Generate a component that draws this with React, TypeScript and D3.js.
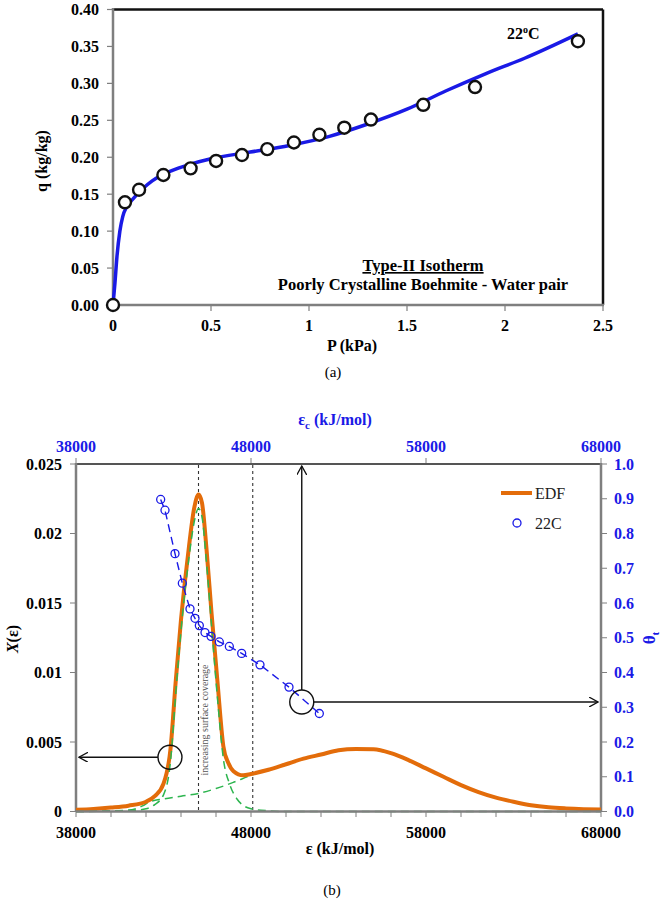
import * as d3 from "d3";
import React from "react";

// ---- (a) isotherm data ----
const pData = [0, 0.061, 0.133, 0.257, 0.396, 0.526, 0.658, 0.787, 0.923, 1.053, 1.18, 1.316, 1.583, 1.847, 2.372];
const qData = [0, 0.139, 0.156, 0.176, 0.185, 0.195, 0.203, 0.211, 0.22, 0.2305, 0.24, 0.251, 0.271, 0.295, 0.357];
const pFit = [0, 0.01, 0.02, 0.035, 0.05, 0.07, 0.1, 0.15, 0.2, 0.3, 0.4, 0.5, 0.7, 0.9, 1.1, 1.3, 1.5, 1.7, 1.9, 2.1, 2.372];
const qFit = [0, 0.03, 0.065, 0.1, 0.12, 0.133, 0.143, 0.157, 0.168, 0.182, 0.191, 0.198, 0.207, 0.216, 0.228, 0.245, 0.265, 0.29, 0.313, 0.334, 0.367];
const xTicksA = [0, 0.5, 1, 1.5, 2, 2.5];
const xTickLabelsA = ["0", "0.5", "1", "1.5", "2", "2.5"];
const yTicksA = [0, 0.05, 0.1, 0.15, 0.2, 0.25, 0.3, 0.35, 0.4];

// ---- (b) energy distribution data ----
const eps = [38000, 39000, 40000, 41000, 42000, 42500, 43000, 43400, 43700, 44000, 44450, 44750, 45000, 45200, 45450, 45750, 46080, 46420, 46700, 47000, 47550, 48000, 49000, 50000, 51000, 52000, 53000, 54000, 55000, 56000, 57000, 58000, 59000, 60000, 61000, 62000, 63000, 64000, 65000, 66000, 67000, 68000];
const edf = [0.00012, 0.00018, 0.00028, 0.00042, 0.0007, 0.0011, 0.002, 0.0045, 0.0094, 0.0138, 0.019, 0.0218, 0.0228, 0.0222, 0.019, 0.0142, 0.0094, 0.0047, 0.0035, 0.0029, 0.0026, 0.0027, 0.003, 0.0034, 0.0038, 0.0041, 0.0044, 0.0045, 0.00448, 0.0042, 0.0037, 0.0031, 0.0025, 0.0019, 0.0014, 0.001, 0.0007, 0.00045, 0.0003, 0.00022, 0.00017, 0.00014];

const epsNarrow = [38000, 41000, 42000, 42500, 43000, 43400, 43700, 44000, 44450, 44750, 45000, 45200, 45450, 45750, 46080, 46420, 46800, 47200, 47600, 48000, 49000, 50000, 68000];
const narrow = [0, 0.00005, 0.0002, 0.0005, 0.0012, 0.0036, 0.0085, 0.013, 0.0182, 0.0208, 0.0218, 0.0212, 0.018, 0.0133, 0.0082, 0.0038, 0.0019, 0.0009, 0.0004, 0.0002, 0.00005, 0, 0];
const epsWide = [38000, 41000, 41800, 42200, 43000, 44000, 45000, 46000, 47000, 48000, 49000, 50000, 52000, 54000, 56000, 58000, 60000, 62000, 64000, 66000, 68000];
const wide = [0, 0.0001, 0.0004, 0.0007, 0.0009, 0.0011, 0.0013, 0.00165, 0.0021, 0.0026, 0.003, 0.0034, 0.0041, 0.0045, 0.0042, 0.0031, 0.0019, 0.001, 0.00045, 0.00022, 0.00014];

const epsC = [42838, 43086, 43657, 44076, 44514, 44800, 45048, 45371, 45714, 46190, 46762, 47467, 48514, 50171, 51905];
const theta = [0.898, 0.867, 0.742, 0.657, 0.583, 0.556, 0.535, 0.515, 0.504, 0.488, 0.475, 0.455, 0.422, 0.358, 0.282];

const xMajorB = [38000, 48000, 58000, 68000];
const xMinorB = d3.range(38000, 68001, 2000);
const yTicksB = [0, 0.005, 0.01, 0.015, 0.02, 0.025];
const yTickLabelsB = ["0", "0.005", "0.01", "0.015", "0.02", "0.025"];
const rTicks = [0, 0.1, 0.2, 0.3, 0.4, 0.5, 0.6, 0.7, 0.8, 0.9, 1.0];

const FONT = "'Liberation Serif', 'Times New Roman', serif";
const BLUE = "#1a1ae6";
const ORANGE = "#e36c0a";
const GREEN = "#2db54f";
const GRAY = "#7f7f7f";

export default function App() {
  // (a) scales
  const xA = d3.scaleLinear([0, 2.5], [113, 603]);
  const yA = d3.scaleLinear([0, 0.4], [305, 9.5]);
  const fitLine = d3
    .line<number>()
    .x((d) => xA(d))
    .y((d, i) => yA(qFit[i]))
    .curve(d3.curveMonotoneX);

  // (b) scales
  const xB = d3.scaleLinear([38000, 68000], [76, 601]);
  const yB = d3.scaleLinear([0, 0.025], [811.5, 464]);
  const yR = d3.scaleLinear([0, 1], [811.5, 464]);

  const mk = (xs: number[], ys: number[]) =>
    d3
      .line<number>()
      .x((d) => xB(d))
      .y((d, i) => yB(ys[i]))
      .curve(d3.curveMonotoneX)(xs) as string;

  const thetaLine = d3
    .line<number>()
    .x((d) => xB(d))
    .y((d, i) => yR(theta[i]))(epsC) as string;

  // annotation circles, in data terms
  const bigC = { x: xB(50900), y: yR(0.315) };
  const smallC = { x: xB(43370), y: yB(0.0039) };

  return (
    <div style={{ position: "absolute", left: 0, top: 0 }}>
      <svg width={666} height={902} fontFamily={FONT} style={{ display: "block", fontFamily: FONT }}>
        <defs>
          <marker id="arr" viewBox="0 0 10 10" refX="9" refY="5" markerWidth="10" markerHeight="10" markerUnits="userSpaceOnUse" orient="auto">
            <path d="M0,0 L9,5 L0,10" fill="none" stroke="#111" strokeWidth={1.3} />
          </marker>
        </defs>

        {/* ===== (a) ===== */}
        <g>
          <line x1={113} x2={603} y1={9.5} y2={9.5} stroke="#111" strokeWidth={2.5} />
          <line x1={603} x2={603} y1={9.5} y2={305} stroke="#111" strokeWidth={2.5} />
          {yTicksA.map((t) => (
            <g key={"ya" + t}>
              <line x1={107} x2={113} y1={yA(t)} y2={yA(t)} stroke={GRAY} strokeWidth={1.2} />
              <text x={99} y={yA(t)} dy="0.35em" textAnchor="end" fontSize={16} fontWeight="bold">
                {t.toFixed(2)}
              </text>
            </g>
          ))}
          {xTicksA.map((t, i) => (
            <g key={"xa" + t}>
              <line x1={xA(t)} x2={xA(t)} y1={305} y2={311} stroke={GRAY} strokeWidth={1.2} />
              <text x={xA(t)} y={325} dy="0.35em" textAnchor="middle" fontSize={16} fontWeight="bold">
                {xTickLabelsA[i]}
              </text>
            </g>
          ))}
          <line x1={113} x2={113} y1={8} y2={306} stroke={GRAY} strokeWidth={2.5} />
          <line x1={112} x2={604} y1={305} y2={305} stroke={GRAY} strokeWidth={2.5} />

          <path d={fitLine(pFit) as string} fill="none" stroke={BLUE} strokeWidth={3.5} />
          {pData.map((p, i) => (
            <circle key={"pa" + i} cx={xA(p)} cy={yA(qData[i])} r={6} fill="#fff" stroke="#111" strokeWidth={2.4} />
          ))}

          <text x={507} y={39} fontSize={16} fontWeight="bold">
            22
            <tspan fontSize={10} dy={-6}>o</tspan>
            <tspan dy={6}>C</tspan>
          </text>
          <text x={423} y={271} textAnchor="middle" fontSize={16.5} fontWeight="bold" textDecoration="underline">
            Type-II Isotherm
          </text>
          <text x={423} y={290} textAnchor="middle" fontSize={16.5} fontWeight="bold">
            Poorly Crystalline Boehmite - Water pair
          </text>

          <text transform="translate(47,161) rotate(-90)" textAnchor="middle" fontSize={16} fontWeight="bold">
            q (kg/kg)
          </text>
          <text x={352} y={351} textAnchor="middle" fontSize={16} fontWeight="bold">
            P (kPa)
          </text>
          <text x={333} y={377} textAnchor="middle" fontSize={15}>
            (a)
          </text>
        </g>

        {/* ===== (b) ===== */}
        <g>
          {xMajorB.map((t) => (
            <g key={"tb" + t}>
              <line x1={xB(t)} x2={xB(t)} y1={458} y2={464} stroke={GRAY} strokeWidth={1} />
              <text x={xB(t)} y={446} dy="0.35em" textAnchor="middle" fontSize={16} fontWeight="bold" fill={BLUE}>
                {t}
              </text>
            </g>
          ))}
          <text x={335} y={425} textAnchor="middle" fontSize={16} fontWeight="bold" fill={BLUE}>
            ε
            <tspan fontSize={11} dy={4}>c</tspan>
            <tspan dy={-4}> (kJ/mol)</tspan>
          </text>

          {xMinorB.map((t) => (
            <line key={"mb" + t} x1={xB(t)} x2={xB(t)} y1={811.5} y2={817} stroke={GRAY} strokeWidth={1} />
          ))}
          {xMajorB.map((t) => (
            <text key={"bl" + t} x={xB(t)} y={832} dy="0.35em" textAnchor="middle" fontSize={16} fontWeight="bold">
              {t}
            </text>
          ))}
          <text x={340} y={854} textAnchor="middle" fontSize={16} fontWeight="bold">
            ε (kJ/mol)
          </text>

          {yTicksB.map((t, i) => (
            <g key={"yb" + t}>
              <line x1={70} x2={76} y1={yB(t)} y2={yB(t)} stroke={GRAY} strokeWidth={1} />
              <text x={62} y={yB(t)} dy="0.35em" textAnchor="end" fontSize={16} fontWeight="bold">
                {yTickLabelsB[i]}
              </text>
            </g>
          ))}
          <text transform="translate(18,639) rotate(-90)" textAnchor="middle" fontSize={16} fontWeight="bold">
            <tspan fontStyle="italic">X</tspan>(ε)
          </text>

          {rTicks.map((t) => (
            <g key={"rb" + t}>
              <line x1={601} x2={607} y1={yR(t)} y2={yR(t)} stroke={GRAY} strokeWidth={1} />
              <text x={614} y={yR(t)} dy="0.35em" fontSize={16} fontWeight="bold" fill={BLUE}>
                {t.toFixed(1)}
              </text>
            </g>
          ))}
          <text transform="translate(655,638) rotate(-90)" textAnchor="middle" fontSize={17} fontWeight="bold" fill={BLUE}>
            θ
            <tspan fontSize={11} dy={4}>t</tspan>
          </text>

          <line x1={76} x2={601} y1={464} y2={464} stroke="#555" strokeWidth={2} />
          <line x1={601} x2={601} y1={463} y2={812} stroke={GRAY} strokeWidth={2.5} />
          <line x1={76} x2={76} y1={463} y2={812} stroke={GRAY} strokeWidth={2.5} />

          {[45000, 48100].map((v) => (
            <line key={"dv" + v} x1={xB(v)} x2={xB(v)} y1={465} y2={811} stroke="#333" strokeWidth={1.1} strokeDasharray="3,3" />
          ))}
          <text transform={`translate(${xB(45550)},720) rotate(-90)`} textAnchor="middle" fontSize={10} fill="#555">
            increasing surface coverage
          </text>

          <path d={mk(epsWide, wide)} fill="none" stroke={GREEN} strokeWidth={1.5} strokeDasharray="8,5" />
          <path d={mk(eps, edf)} fill="none" stroke={ORANGE} strokeWidth={4} />
          <path d={mk(epsNarrow, narrow)} fill="none" stroke={GREEN} strokeWidth={1.5} strokeDasharray="8,5" />
          <line x1={76} x2={601} y1={811.5} y2={811.5} stroke={GRAY} strokeWidth={2.5} />

          <path d={thetaLine} fill="none" stroke={BLUE} strokeWidth={1.4} strokeDasharray="8,5" />
          {epsC.map((e, i) => (
            <circle key={"th" + i} cx={xB(e)} cy={yR(theta[i])} r={4} fill="none" stroke={BLUE} strokeWidth={1.3} />
          ))}

          <circle cx={bigC.x} cy={bigC.y} r={12} fill="none" stroke="#111" strokeWidth={1.4} />
          <line x1={bigC.x} x2={bigC.x} y1={bigC.y - 12} y2={466} stroke="#111" strokeWidth={1.4} markerEnd="url(#arr)" />
          <line x1={bigC.x + 12} x2={598} y1={bigC.y} y2={bigC.y} stroke="#111" strokeWidth={1.4} markerEnd="url(#arr)" />
          <circle cx={smallC.x} cy={smallC.y} r={12} fill="none" stroke="#111" strokeWidth={1.4} />
          <line x1={smallC.x - 12} x2={79} y1={smallC.y} y2={smallC.y} stroke="#111" strokeWidth={1.4} markerEnd="url(#arr)" />

          <line x1={501} x2={532} y1={493} y2={493} stroke={ORANGE} strokeWidth={4} />
          <text x={535} y={493} dy="0.35em" fontSize={16} fill="#222">
            EDF
          </text>
          <circle cx={517} cy={523} r={4} fill="none" stroke={BLUE} strokeWidth={1.3} />
          <text x={535} y={523} dy="0.35em" fontSize={16} fill="#222">
            22C
          </text>

          <text x={332} y={895} textAnchor="middle" fontSize={15}>
            (b)
          </text>
        </g>
      </svg>
    </div>
  );
}
